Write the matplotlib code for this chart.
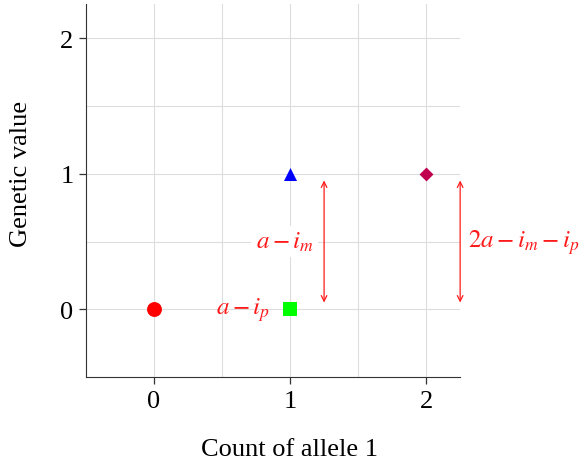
import matplotlib
matplotlib.use("Agg")
import matplotlib.pyplot as plt

plt.rcParams["font.family"] = ["Liberation Serif", "DejaVu Serif"]
plt.rcParams["mathtext.fontset"] = "stix"

# genotype points: allele count vs genetic value
allele_count = [0, 1, 1, 2]
genetic_value = [0, 0, 1, 1]
point_colors = ["#ff0000", "#00ff00", "#0000ff", "#c0004f"]
point_markers = ["o", "s", "^", "D"]
point_sizes = [115, 100, 88, 50]

# red difference annotations
arrow_x = [1.25, 2.25]
arrow_y0 = [0.05, 0.05]
arrow_y1 = [0.95, 0.95]
red = "#ff1a1a"

fig = plt.figure(figsize=(5.81, 4.64), dpi=100)
ax = fig.add_axes([0.148, 0.185, 0.644, 0.804])

for x, y, c, m, s in zip(allele_count, genetic_value, point_colors, point_markers, point_sizes):
    ax.scatter(x, y, c=c, marker=m, s=s, zorder=3, linewidths=0)

for x, y0, y1 in zip(arrow_x, arrow_y0, arrow_y1):
    ax.annotate("", xy=(x, y1), xytext=(x, y0),
                arrowprops=dict(arrowstyle="<->", color=red, lw=0.9,
                                shrinkA=0, shrinkB=0),
                annotation_clip=False, zorder=4)

ax.text(0.96, 0.5, r"$a-i_m$", color=red, fontsize=18, ha="center", va="center",
        bbox=dict(facecolor="white", edgecolor="none", pad=3), zorder=5)
ax.text(0.85, 0.0, r"$a-i_p$", color=red, fontsize=18, ha="right", va="center", zorder=5)
ax.text(2.31, 0.5, r"$2a-i_m-i_p$", color=red, fontsize=18, ha="left", va="center",
        clip_on=False, zorder=5)

ax.set_xlim(-0.5, 2.25)
ax.set_ylim(-0.5, 2.25)
ax.set_xticks([0, 1, 2])
ax.set_yticks([0, 1, 2])
ax.set_xticks([0.5, 1.5], minor=True)
ax.set_yticks([0.5, 1.5], minor=True)
ax.tick_params(which="minor", length=0)
ax.tick_params(which="major", direction="out", length=5, width=0.9,
               color="#333333", labelsize=19, pad=4)
ax.grid(True, which="both", color="#dddddd", lw=0.8, zorder=0)
ax.set_axisbelow(True)
for side in ["top", "right"]:
    ax.spines[side].set_visible(False)
for side in ["left", "bottom"]:
    ax.spines[side].set_color("#333333")

ax.set_xlabel("Count of allele 1", fontsize=19, va="center")
ax.set_ylabel("Genetic value", fontsize=19, va="center")
ax.xaxis.set_label_coords(0.543, -0.193)
ax.yaxis.set_label_coords(-0.174, 0.547)

fig.savefig("out.png", dpi=100)
